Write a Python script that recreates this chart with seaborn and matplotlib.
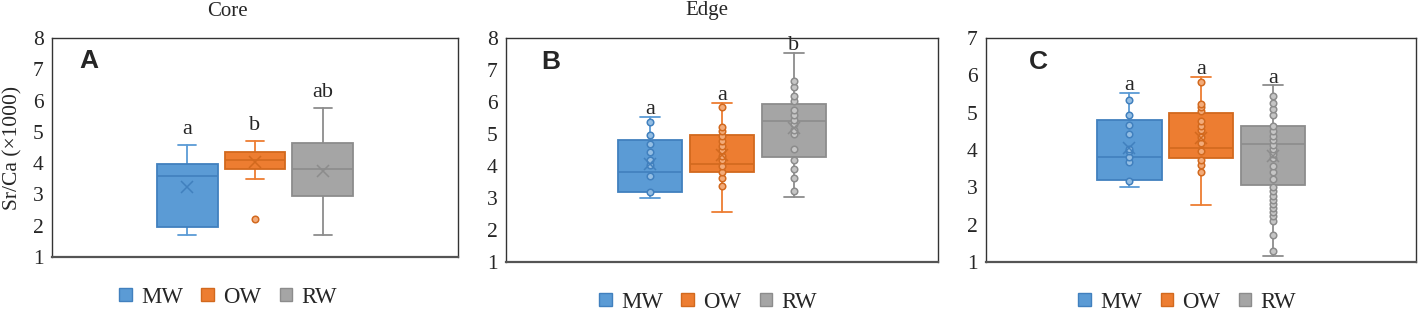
import numpy as np
import pandas as pd
import matplotlib
matplotlib.use("Agg")
import matplotlib.pyplot as plt
import seaborn as sns
from matplotlib.patches import Patch

# ── data ─────────────────────────────────────────────────────────────────────
groups = ["MW", "OW", "RW"]
fills  = ["#5B9BD5", "#ED7D31", "#A5A5A5"]
edges  = ["#4180BE", "#D2691E", "#8C8C8C"]

# Core (A)
core_whislo = [1.69, 3.50, 1.69]
core_q1     = [1.95, 3.81, 2.94]
core_med    = [3.60, 4.10, 3.80]
core_q3     = [3.97, 4.37, 4.64]
core_whishi = [4.59, 4.71, 5.75]
core_mean   = [3.24, 4.04, 3.76]
core_mw = []
core_ow = [2.20]            # outlier
core_rw = []
core_letters = ["a", "b", "ab"]

# Edge (B)
edge_whislo = [3.01, 2.56, 3.03]
edge_q1     = [3.20, 3.80, 4.28]
edge_med    = [3.82, 4.06, 5.42]
edge_q3     = [4.82, 4.98, 5.94]
edge_whishi = [5.53, 5.97, 7.53]
edge_mean   = [4.07, 4.35, 5.19]
edge_mw = [3.19, 3.69, 4.04, 4.20, 4.44, 4.69, 4.96, 5.36]
edge_ow = [3.39, 3.62, 3.81, 3.99, 4.20, 4.30, 4.49, 4.63, 4.77, 4.95,
           5.10, 5.21, 5.83]
edge_rw = [3.23, 3.63, 3.92, 4.19, 4.52, 5.01, 5.14, 5.30, 5.45, 5.60,
           5.76, 6.02, 6.19, 6.46, 6.67]
edge_letters = ["a", "a", "b"]

# Combined (C)
all_whislo = [3.01, 2.54, 1.15]
all_q1     = [3.19, 3.79, 3.05]
all_med    = [3.81, 4.06, 4.16]
all_q3     = [4.80, 4.98, 4.63]
all_whishi = [5.53, 5.96, 5.73]
all_mean   = [4.05, 4.32, 3.83]
all_mw = [3.16, 3.68, 3.81, 3.98, 4.03, 4.44, 4.66, 4.94, 5.33]
all_ow = [3.40, 3.61, 3.74, 3.98, 4.19, 4.35, 4.53, 4.63, 4.77, 5.05,
          5.14, 5.23, 5.81]
all_rw = [1.30, 1.71, 2.11, 2.22, 2.33, 2.45, 2.56, 2.67, 2.78, 2.89,
          3.01, 3.22, 3.40, 3.58, 3.79, 3.90, 4.03, 4.14, 4.26, 4.38,
          4.50, 4.63, 4.94, 5.10, 5.27, 5.44]
all_letters = ["a", "a", "a"]

sns.set_style("white")
plt.rcParams["font.family"] = ["Liberation Serif", "DejaVu Serif"]


def lighten(c, f=0.35):
    rgb = np.array(matplotlib.colors.to_rgb(c))
    return tuple(rgb + (1 - rgb) * f)


def draw_panel(ax, whislo, q1, med, q3, whishi, mean, pts, letters,
               ymin, ymax, letter_pad, tag, tag_x):
    stats = [dict(whislo=whislo[i], q1=q1[i], med=med[i], q3=q3[i],
                  whishi=whishi[i], fliers=[]) for i in range(3)]
    art = ax.bxp(stats, positions=range(3), widths=0.9, capwidths=0.27,
                 patch_artist=True, showfliers=False)
    for i in range(3):
        art["boxes"][i].set(facecolor=fills[i], edgecolor=edges[i],
                            linewidth=1.3, zorder=2)
        art["medians"][i].set(color=edges[i], linewidth=1.2, zorder=3)
        for ln in art["whiskers"][2*i:2*i+2] + art["caps"][2*i:2*i+2]:
            ln.set(color=fills[i] if i != 2 else edges[i], linewidth=1.3,
                   zorder=1)

    # inner points
    df = pd.DataFrame({
        "group": [g for g, p in zip(groups, pts) for _ in p],
        "pos":   [i for i, p in enumerate(pts) for _ in p],
        "value": [v for p in pts for v in p],
    })
    for i, g in enumerate(groups):
        sub = df[df["group"] == g]
        if len(sub):
            sns.scatterplot(data=sub, x="pos", y="value", ax=ax,
                            color=lighten(fills[i]), edgecolor=edges[i],
                            linewidth=1.1, s=22, zorder=4, legend=False)

    # means
    for i, m in enumerate(mean):
        ax.plot(i, m, marker="x", ms=8, mew=1.1, color=edges[i], zorder=5)

    # significance letters
    for i, lab in enumerate(letters):
        ax.annotate(lab, (i, whishi[i]), xytext=(0, letter_pad),
                    textcoords="offset points", ha="center", va="baseline",
                    fontsize=16)

    ax.set_xlim(-2, 4)
    ax.set_ylim(ymin, ymax)
    ax.set_yticks(range(ymin, ymax + 1))
    ax.set_xticks([])
    ax.set_xlabel("")
    ax.set_ylabel("")
    ax.tick_params(axis="y", length=0, pad=6, labelsize=15.5)
    for s in ax.spines.values():
        s.set_visible(True)
        s.set_color("#333333")
        s.set_linewidth(1.0)
    ax.spines["bottom"].set_color("#555555")
    ax.spines["bottom"].set_linewidth(1.6)
    ax.text(tag_x, 0.895, tag, transform=ax.transAxes, ha="center",
            va="center", fontsize=19, fontweight="bold",
            family="Liberation Sans")


fig = plt.figure(figsize=(14.18, 3.18), dpi=100)
axA = fig.add_axes([0.0367, 0.1918, 0.2863, 0.6887])
axB = fig.add_axes([0.3568, 0.1761, 0.3047, 0.7044])
axC = fig.add_axes([0.6953, 0.1761, 0.3035, 0.7044])

draw_panel(axA, core_whislo, core_q1, core_med, core_q3, core_whishi,
           core_mean, [core_mw, core_ow, core_rw], core_letters,
           1, 8, 8, "A", 0.091)
draw_panel(axB, edge_whislo, edge_q1, edge_med, edge_q3, edge_whishi,
           edge_mean, [edge_mw, edge_ow, edge_rw], edge_letters,
           1, 8, 2, "B", 0.104)
draw_panel(axC, all_whislo, all_q1, all_med, all_q3, all_whishi,
           all_mean, [all_mw, all_ow, all_rw], all_letters,
           1, 7, 2, "C", 0.123)

axA.set_ylabel("Sr/Ca (\u00d71000)", fontsize=15.5)
axA.yaxis.set_label_coords(-0.074, 0.5)

fig.text(227 / 1418, 1 - 11 / 318, "Core", ha="center", va="center",
         fontsize=15)
fig.text(707 / 1418, 1 - 11 / 318, "Edge", ha="center", va="center",
         fontsize=15)

handles = [Patch(facecolor=fills[i], edgecolor=edges[i], label=g)
           for i, g in enumerate(groups)]
for ax, cx, cy in [(axA, 0.434, -0.183), (axB, 0.468, -0.179),
                   (axC, 0.468, -0.179)]:
    ax.legend(handles=handles, loc="center", bbox_to_anchor=(cx, cy),
              ncol=3, frameon=False, fontsize=16.5, handlelength=0.55,
              handleheight=0.55, handletextpad=0.4, columnspacing=0.8,
              borderaxespad=0)

fig.savefig("out.png", dpi=100)
